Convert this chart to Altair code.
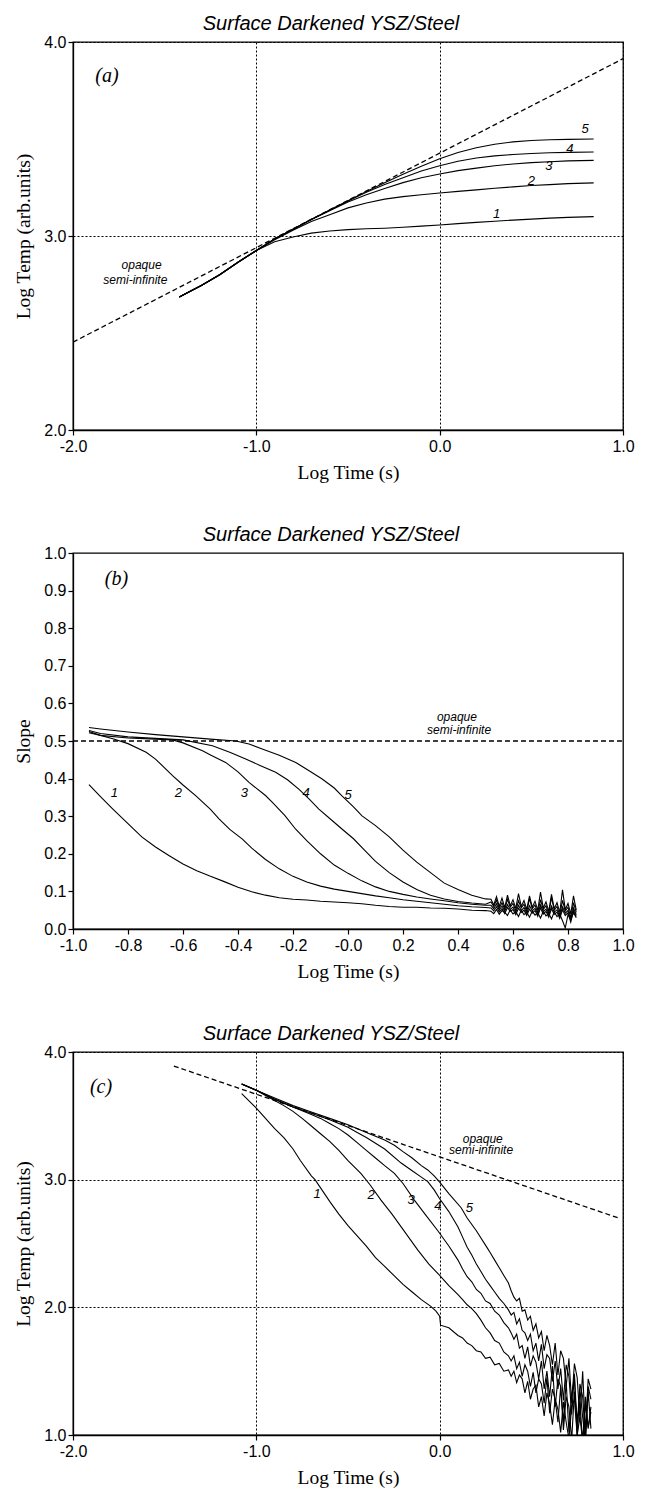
import altair as alt
import pandas as pd

TITLE = "Surface Darkened YSZ/Steel"
X_TITLE = "Log Time (s)"
Y_TITLE_TEMP = "Log Temp (arb.units)"
Y_TITLE_SLOPE = "Slope"

# ---------------- Panel (a): log temperature rise vs log time ----------------
A_X = [-1.42, -1.35, -1.3, -1.2, -1.1, -1.0, -0.9, -0.8, -0.7, -0.6, -0.5, -0.4,
       -0.3, -0.2, -0.1, 0.0, 0.1, 0.2, 0.3, 0.4, 0.5, 0.6, 0.7, 0.84]
A_Y1 = [2.686, 2.72, 2.745, 2.80, 2.865, 2.925, 2.97, 2.995, 3.015, 3.026, 3.033, 3.037,
        3.04, 3.045, 3.051, 3.057, 3.064, 3.07, 3.076, 3.082, 3.087, 3.092, 3.096, 3.10]
A_Y2 = [2.686, 2.72, 2.745, 2.80, 2.865, 2.925, 2.98, 3.03, 3.075, 3.11, 3.145, 3.17,
        3.19, 3.203, 3.213, 3.222, 3.23, 3.238, 3.246, 3.253, 3.26, 3.265, 3.27, 3.274]
A_Y3 = [2.686, 2.72, 2.745, 2.80, 2.865, 2.925, 2.985, 3.035, 3.085, 3.13, 3.175, 3.213,
        3.245, 3.275, 3.30, 3.32, 3.337, 3.35, 3.362, 3.371, 3.378, 3.383, 3.387, 3.39]
A_Y4 = [2.686, 2.72, 2.745, 2.80, 2.865, 2.925, 2.985, 3.035, 3.085, 3.133, 3.18, 3.225,
        3.265, 3.30, 3.335, 3.362, 3.385, 3.402, 3.413, 3.42, 3.425, 3.429, 3.431, 3.433]
A_Y5 = [2.686, 2.72, 2.745, 2.80, 2.865, 2.925, 2.985, 3.035, 3.085, 3.134, 3.182, 3.23,
        3.275, 3.318, 3.36, 3.398, 3.43, 3.455, 3.473, 3.485, 3.492, 3.496, 3.498, 3.50]
A_DASH_X = [-2.0, 1.0]
A_DASH_Y = [2.453, 3.914]
A_LBL_X = [0.31, 0.50, 0.595, 0.71, 0.793]
A_LBL_Y = [3.112, 3.285, 3.36, 3.447, 3.55]

# ---------------- Panel (b): slope vs log time ----------------
B1_X = [-0.942, -0.9, -0.855, -0.8, -0.75, -0.7, -0.65, -0.6, -0.55, -0.5, -0.45, -0.4,
        -0.35, -0.3, -0.25, -0.2, -0.15, -0.1, -0.05, 0.0, 0.05, 0.1, 0.15, 0.2, 0.25,
        0.3, 0.35, 0.4, 0.45, 0.5]
B1_Y = [0.384, 0.352, 0.319, 0.28, 0.245, 0.218, 0.195, 0.173, 0.155, 0.14, 0.126, 0.111,
        0.099, 0.09, 0.083, 0.079, 0.077, 0.074, 0.072, 0.070, 0.067, 0.063, 0.060, 0.058,
        0.058, 0.056, 0.055, 0.053, 0.050, 0.049]
B2_X = [-0.942, -0.9, -0.855, -0.8, -0.734, -0.7, -0.638, -0.6, -0.553, -0.5, -0.469,
        -0.43, -0.384, -0.35, -0.3, -0.25, -0.2, -0.15, -0.1, -0.05, 0.0, 0.05, 0.1, 0.15,
        0.2, 0.25, 0.3, 0.35, 0.4, 0.45, 0.5]
B2_Y = [0.525, 0.515, 0.506, 0.493, 0.47, 0.452, 0.408, 0.383, 0.354, 0.318, 0.293,
        0.265, 0.239, 0.215, 0.185, 0.16, 0.14, 0.125, 0.114, 0.106, 0.10, 0.094, 0.088,
        0.083, 0.078, 0.074, 0.070, 0.066, 0.062, 0.059, 0.057]
B3_X = [-0.942, -0.9, -0.8, -0.7, -0.638, -0.6, -0.529, -0.5, -0.445, -0.4, -0.36, -0.3,
        -0.275, -0.23, -0.191, -0.15, -0.1, -0.05, 0.0, 0.05, 0.1, 0.15, 0.2, 0.25, 0.3,
        0.35, 0.4, 0.45, 0.5]
B3_Y = [0.522, 0.515, 0.508, 0.505, 0.503, 0.495, 0.474, 0.463, 0.443, 0.418, 0.39, 0.355,
        0.337, 0.302, 0.266, 0.235, 0.2, 0.17, 0.148, 0.128, 0.112, 0.10, 0.092, 0.085,
        0.08, 0.075, 0.07, 0.066, 0.063]
B4_X = [-0.942, -0.9, -0.8, -0.7, -0.6, -0.493, -0.43, -0.372, -0.32, -0.263, -0.22,
        -0.179, -0.14, -0.106, -0.06, -0.022, 0.02, 0.06, 0.1, 0.15, 0.2, 0.25, 0.3, 0.35,
        0.4, 0.45, 0.5]
B4_Y = [0.528, 0.52, 0.511, 0.507, 0.503, 0.4875, 0.47, 0.452, 0.435, 0.417, 0.397,
        0.372, 0.345, 0.319, 0.29, 0.266, 0.24, 0.21, 0.18, 0.15, 0.125, 0.105, 0.09,
        0.08, 0.073, 0.069, 0.066]
B5_X = [-0.942, -0.9, -0.8, -0.7, -0.6, -0.5, -0.408, -0.36, -0.312, -0.25, -0.19, -0.14,
        -0.094, -0.05, -0.022, 0.02, 0.051, 0.1, 0.15, 0.2, 0.25, 0.3, 0.35, 0.4, 0.45, 0.5]
B5_Y = [0.536, 0.532, 0.524, 0.517, 0.511, 0.505, 0.50, 0.492, 0.479, 0.462, 0.443, 0.42,
        0.399, 0.375, 0.354, 0.325, 0.301, 0.275, 0.245, 0.21, 0.178, 0.15, 0.122, 0.105,
        0.09, 0.08]
B_TAIL_X = [0.52, 0.53, 0.54, 0.55, 0.56, 0.57, 0.58, 0.59, 0.60, 0.61, 0.62, 0.63, 0.64,
            0.65, 0.66, 0.67, 0.68, 0.69, 0.70, 0.71, 0.72, 0.73, 0.74, 0.75, 0.76, 0.77,
            0.78, 0.79, 0.80, 0.81, 0.82, 0.83]
B1_TAIL = [0.047, 0.041, 0.052, 0.039, 0.049, 0.044, 0.036, 0.051, 0.040, 0.046, 0.033,
           0.050, 0.038, 0.045, 0.031, 0.048, 0.037, 0.043, 0.029, 0.047, 0.035, 0.041,
           0.027, 0.046, 0.033, 0.040, 0.022, 0.003, 0.038, 0.025, 0.043, 0.030]
B2_TAIL = [0.056, 0.048, 0.059, 0.045, 0.054, 0.041, 0.057, 0.047, 0.052, 0.038, 0.055,
           0.044, 0.050, 0.036, 0.053, 0.042, 0.049, 0.034, 0.056, 0.040, 0.047, 0.031,
           0.054, 0.039, 0.045, 0.028, 0.051, 0.036, 0.043, 0.018, 0.048, 0.033]
B3_TAIL = [0.063, 0.054, 0.067, 0.050, 0.061, 0.047, 0.065, 0.052, 0.058, 0.044, 0.063,
           0.049, 0.057, 0.041, 0.062, 0.048, 0.055, 0.039, 0.064, 0.046, 0.053, 0.036,
           0.061, 0.045, 0.051, 0.033, 0.059, 0.042, 0.049, 0.026, 0.056, 0.038]
B4_TAIL = [0.072, 0.060, 0.077, 0.055, 0.070, 0.052, 0.079, 0.058, 0.068, 0.049, 0.075,
           0.056, 0.066, 0.046, 0.081, 0.054, 0.064, 0.043, 0.078, 0.052, 0.062, 0.040,
           0.084, 0.050, 0.060, 0.037, 0.076, 0.048, 0.058, 0.030, 0.070, 0.044]
B5_TAIL = [0.079, 0.064, 0.086, 0.060, 0.082, 0.057, 0.090, 0.062, 0.078, 0.055, 0.094,
           0.060, 0.076, 0.052, 0.088, 0.058, 0.074, 0.050, 0.098, 0.056, 0.072, 0.047,
           0.092, 0.054, 0.070, 0.044, 0.104, 0.052, 0.068, 0.040, 0.088, 0.050]
B_DASH_X = [-1.0, 1.0]
B_DASH_Y = [0.5, 0.5]
B_LBL_X = [-0.85, -0.617, -0.377, -0.152, 0.0]
B_LBL_Y = [0.362, 0.362, 0.362, 0.362, 0.356]

# ---------------- Panel (c): log temperature vs log time (decay) ----------------
C1_X = [-1.08, -1.0, -0.95, -0.9, -0.85, -0.8, -0.76, -0.7, -0.68, -0.6, -0.55, -0.5,
        -0.45, -0.4, -0.35, -0.3, -0.25, -0.2, -0.15, -0.1, -0.05, -0.02, 0.0, 0.005,
        0.05, 0.1]
C1_Y = [3.674, 3.56, 3.48, 3.40, 3.33, 3.24, 3.15, 3.03, 3.0, 2.83, 2.73, 2.64, 2.56,
        2.48, 2.39, 2.32, 2.25, 2.18, 2.12, 2.06, 2.01, 1.97, 1.93, 1.86, 1.84, 1.78]
C2_X = [-1.08, -1.0, -0.95, -0.9, -0.85, -0.8, -0.75, -0.7, -0.65, -0.6, -0.55, -0.5,
        -0.43, -0.38, -0.32, -0.26, -0.21, -0.16, -0.12, -0.06, 0.0, 0.05, 0.1]
C2_Y = [3.75, 3.70, 3.66, 3.62, 3.58, 3.535, 3.48, 3.42, 3.36, 3.30, 3.23, 3.15, 3.05,
        2.96, 2.84, 2.73, 2.63, 2.53, 2.45, 2.34, 2.25, 2.17, 2.10]
C3_X = [-1.08, -1.0, -0.9, -0.8, -0.7, -0.65, -0.6, -0.55, -0.5, -0.45, -0.4, -0.35,
        -0.3, -0.247, -0.2, -0.138, -0.08, -0.01, 0.05, 0.1]
C3_Y = [3.75, 3.70, 3.63, 3.57, 3.51, 3.48, 3.44, 3.40, 3.35, 3.29, 3.23, 3.17, 3.11,
        3.05, 2.97, 2.84, 2.73, 2.60, 2.48, 2.37]
C4_X = [-1.08, -1.0, -0.9, -0.8, -0.7, -0.6, -0.55, -0.5, -0.45, -0.4, -0.3, -0.21,
        -0.15, -0.1, -0.065, -0.03, 0.0, 0.05, 0.1]
C4_Y = [3.75, 3.70, 3.63, 3.57, 3.52, 3.47, 3.44, 3.41, 3.37, 3.33, 3.24, 3.13, 3.07,
        3.02, 2.985, 2.92, 2.85, 2.75, 2.63]
C5_X = [-1.08, -1.0, -0.9, -0.8, -0.7, -0.6, -0.5, -0.4, -0.3, -0.247, -0.2, -0.15,
        -0.1, -0.065, -0.03, 0.0, 0.05, 0.117, 0.15, 0.2, 0.262]
C5_Y = [3.75, 3.70, 3.64, 3.58, 3.53, 3.48, 3.43, 3.37, 3.31, 3.27, 3.22, 3.17, 3.11,
        3.076, 3.03, 2.98, 2.89, 2.78, 2.70, 2.60, 2.46]
C_TAIL1_X = [0.125, 0.15, 0.175, 0.2, 0.225, 0.25, 0.275, 0.3, 0.325, 0.35, 0.375]
C_TAIL2_X = [0.39, 0.405, 0.42, 0.435, 0.45, 0.465, 0.48, 0.495, 0.51, 0.525, 0.54,
             0.555, 0.57, 0.585, 0.6, 0.615, 0.63, 0.645, 0.66, 0.675, 0.69, 0.705, 0.72,
             0.735, 0.75, 0.765, 0.78, 0.795, 0.81, 0.825]
C1_T1 = [1.76, 1.72, 1.70, 1.66, 1.65, 1.60, 1.61, 1.55, 1.56, 1.50, 1.51]
C1_T2 = [1.46, 1.50, 1.41, 1.47, 1.44, 1.33, 1.42, 1.28, 1.36, 1.39, 1.22, 1.30, 1.15,
         1.33, 1.24, 1.08, 1.28, 1.20, 1.02, 1.26, 1.10, 0.97, 1.22, 1.28, 1.00, 1.14,
         0.95, 1.24, 1.06, 1.18]
C2_T1 = [2.06, 2.02, 1.99, 1.95, 1.90, 1.84, 1.80, 1.74, 1.72, 1.65, 1.62]
C2_T2 = [1.58, 1.62, 1.52, 1.57, 1.46, 1.55, 1.50, 1.38, 1.49, 1.33, 1.44, 1.40, 1.25,
         1.45, 1.17, 1.36, 1.28, 1.10, 1.38, 1.04, 1.30, 1.22, 0.96, 1.34, 1.12, 1.26,
         0.94, 1.30, 1.05, 1.22]
C3_T1 = [2.30, 2.24, 2.20, 2.14, 2.11, 2.05, 2.03, 1.97, 1.94, 1.88, 1.84]
C3_T2 = [1.80, 1.75, 1.79, 1.68, 1.70, 1.60, 1.69, 1.54, 1.62, 1.57, 1.44, 1.58, 1.36,
         1.50, 1.30, 1.54, 1.22, 1.44, 1.38, 1.10, 1.42, 1.02, 1.32, 1.45, 0.98, 1.36,
         1.14, 0.95, 1.34, 1.05]
C4_T1 = [2.55, 2.47, 2.41, 2.34, 2.28, 2.22, 2.17, 2.12, 2.07, 2.03, 1.98]
C4_T2 = [1.94, 1.96, 1.87, 1.91, 1.82, 1.80, 1.74, 1.79, 1.66, 1.72, 1.58, 1.71, 1.52,
         1.63, 1.60, 1.42, 1.58, 1.36, 1.52, 1.27, 1.55, 1.46, 1.16, 1.48, 1.06, 1.40,
         1.30, 0.97, 1.38, 1.28]
C5_T1 = [2.43, 2.37, 2.31, 2.25, 2.19]
C5_T2 = [2.13, 2.08, 2.05, 2.07, 1.97, 1.98, 1.90, 1.93, 1.82, 1.87, 1.76, 1.81, 1.66,
         1.78, 1.70, 1.55, 1.72, 1.47, 1.66, 1.60, 1.38, 1.60, 1.25, 1.56, 1.45, 1.12,
         1.50, 1.02, 1.44, 1.36]
C_DASH_X = [-1.45, 0.985]
C_DASH_Y = [3.89, 2.695]
C_LBL_X = [-0.669, -0.374, -0.156, -0.01, 0.162]
C_LBL_Y = [2.89, 2.88, 2.84, 2.79, 2.776]

CURVE_NAMES = ["1", "2", "3", "4", "5"]
OPAQUE_TEXT = ["opaque", "semi-infinite"]
A_OPQ_X = [-1.626, -1.66]
A_OPQ_Y = [2.85, 2.773]
B_OPQ_X = [0.396, 0.404]
B_OPQ_Y = [0.565, 0.529]
C_OPQ_X = [0.235, 0.226]
C_OPQ_Y = [3.32, 3.23]
PANEL_TEXT = ["(a)", "(b)", "(c)"]
PANEL_X = [-1.815, -0.842, -1.847]
PANEL_Y = [3.825, 0.93, 3.726]


def curve_df(xs, ys, name):
    if len(xs) != len(ys):
        raise ValueError("length mismatch in curve " + name)
    return pd.DataFrame({"x": xs, "y": ys, "curve": name})


HYPHEN = "replace(format(datum.value, '.1f'), '\u2212', '-')"


def panel(curves, dash, lbl_x, lbl_y, opq_x, opq_y, pidx, xdom, xvals, xexpr,
          ydom, yvals, ytitle, height, grid):
    X = alt.X("x:Q", scale=alt.Scale(domain=xdom, nice=False, zero=False),
              axis=alt.Axis(values=xvals, title=X_TITLE, grid=grid, labelExpr=xexpr))
    Y = alt.Y("y:Q", scale=alt.Scale(domain=ydom, nice=False, zero=False),
              axis=alt.Axis(values=yvals, title=ytitle, grid=grid, format=".1f"))
    lines = alt.Chart(curves).mark_line(color="black", strokeWidth=1.1, clip=True).encode(
        x=X, y=Y, detail="curve:N")
    dashed = alt.Chart(dash).mark_line(color="black", strokeWidth=1.3,
                                       strokeDash=[5, 3], clip=True).encode(x=X, y=Y)
    lbl_df = pd.DataFrame({"x": lbl_x, "y": lbl_y, "t": CURVE_NAMES})
    lbls = alt.Chart(lbl_df).mark_text(font="Liberation Sans", fontStyle="italic",
                                       fontSize=13, color="black").encode(x=X, y=Y, text="t:N")
    opq_df = pd.DataFrame({"x": opq_x, "y": opq_y, "t": OPAQUE_TEXT})
    opq = alt.Chart(opq_df).mark_text(font="Liberation Sans", fontStyle="italic",
                                      fontSize=12, color="black").encode(x=X, y=Y, text="t:N")
    p_df = pd.DataFrame({"x": [PANEL_X[pidx]], "y": [PANEL_Y[pidx]], "t": [PANEL_TEXT[pidx]]})
    plab = alt.Chart(p_df).mark_text(font="Liberation Serif", fontStyle="italic",
                                     fontSize=20, color="black").encode(x=X, y=Y, text="t:N")
    return alt.layer(lines, dashed, lbls, opq, plab).properties(
        width=550, height=height,
        title=alt.TitleParams(TITLE, font="Liberation Sans", fontStyle="italic",
                              fontSize=20, fontWeight="normal", color="black",
                              anchor="middle", dx=-17, offset=0))


a_curves = pd.concat([curve_df(A_X, A_Y1, "1"), curve_df(A_X, A_Y2, "2"),
                      curve_df(A_X, A_Y3, "3"), curve_df(A_X, A_Y4, "4"),
                      curve_df(A_X, A_Y5, "5")])
a_dash = curve_df(A_DASH_X, A_DASH_Y, "d")

b_curves = pd.concat([curve_df(B1_X + B_TAIL_X, B1_Y + B1_TAIL, "1"),
                      curve_df(B2_X + B_TAIL_X, B2_Y + B2_TAIL, "2"),
                      curve_df(B3_X + B_TAIL_X, B3_Y + B3_TAIL, "3"),
                      curve_df(B4_X + B_TAIL_X, B4_Y + B4_TAIL, "4"),
                      curve_df(B5_X + B_TAIL_X, B5_Y + B5_TAIL, "5")])
b_dash = curve_df(B_DASH_X, B_DASH_Y, "d")

c_curves = pd.concat([
    curve_df(C1_X + C_TAIL1_X + C_TAIL2_X, C1_Y + C1_T1 + C1_T2, "1"),
    curve_df(C2_X + C_TAIL1_X + C_TAIL2_X, C2_Y + C2_T1 + C2_T2, "2"),
    curve_df(C3_X + C_TAIL1_X + C_TAIL2_X, C3_Y + C3_T1 + C3_T2, "3"),
    curve_df(C4_X + C_TAIL1_X + C_TAIL2_X, C4_Y + C4_T1 + C4_T2, "4"),
    curve_df(C5_X + C_TAIL1_X[6:] + C_TAIL2_X, C5_Y + C5_T1 + C5_T2, "5")])
c_dash = curve_df(C_DASH_X, C_DASH_Y, "d")

X_VALS_WIDE = [-2.0, -1.0, 0.0, 1.0]
X_VALS_B = [-1.0, -0.8, -0.6, -0.4, -0.2, 0.0, 0.2, 0.4, 0.6, 0.8, 1.0]
Y_VALS_B = [0.0, 0.1, 0.2, 0.3, 0.4, 0.5, 0.6, 0.7, 0.8, 0.9, 1.0]

pa = panel(a_curves, a_dash, A_LBL_X, A_LBL_Y, A_OPQ_X, A_OPQ_Y, 0,
           [-2, 1], X_VALS_WIDE, HYPHEN, [2, 4], [2.0, 3.0, 4.0], Y_TITLE_TEMP, 388, True)
pb = panel(b_curves, b_dash, B_LBL_X, B_LBL_Y, B_OPQ_X, B_OPQ_Y, 1,
           [-1, 1], X_VALS_B, "datum.value == 0 ? '-0.0' : " + HYPHEN,
           [0, 1], Y_VALS_B, Y_TITLE_SLOPE, 376, False)
pc = panel(c_curves, c_dash, C_LBL_X, C_LBL_Y, C_OPQ_X, C_OPQ_Y, 2,
           [-2, 1], X_VALS_WIDE, HYPHEN, [1, 4], [1.0, 2.0, 3.0, 4.0], Y_TITLE_TEMP, 383, True)

chart = alt.vconcat(pa, pb, pc, spacing=41).properties(
    padding={"left": 5, "right": 5, "top": 5, "bottom": 0},
    background="white",
).configure_view(
    stroke="black", strokeWidth=1.3
).configure_axis(
    domainColor="black", domainWidth=1.3, tickColor="black", tickSize=5, tickWidth=1.2,
    labelFont="Liberation Sans", labelFontSize=16, labelColor="black",
    titleFont="Liberation Serif", titleFontSize=19.5, titleFontWeight="normal",
    titleColor="black", gridColor="black", gridDash=[2, 2], gridWidth=1, gridOpacity=1,
    labelFlush=False, labelOverlap=False
).configure_axisX(
    labelPadding=3, titlePadding=9
).configure_axisY(
    labelPadding=2, titlePadding=10
)

chart.save("out.html", embed_options={"renderer": "svg", "actions": False})
